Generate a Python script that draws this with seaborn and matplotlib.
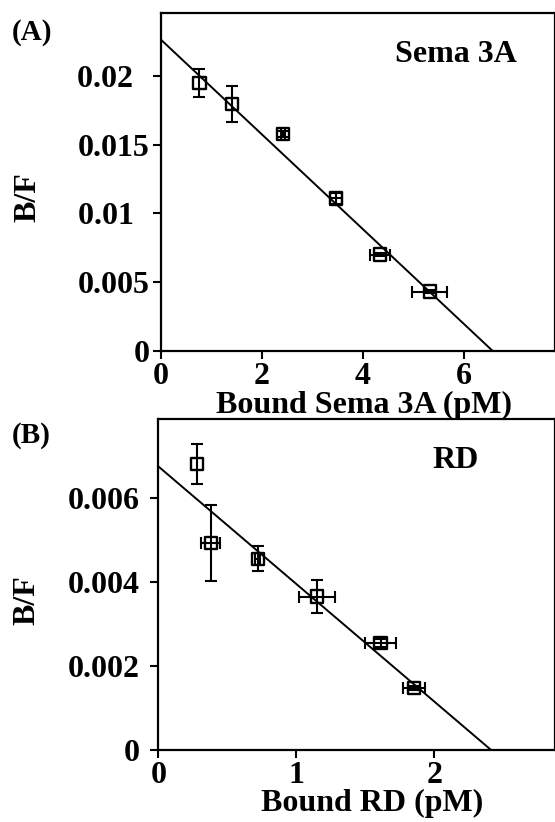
import matplotlib
matplotlib.use("Agg")
import matplotlib.pyplot as plt
import seaborn as sns

# ==============================
# Data
# ==============================

# (A) Sema 3A
sema_bound = [0.77, 1.42, 2.43, 3.47, 4.34, 5.33]
sema_bf = [0.0195, 0.0180, 0.0158, 0.0111, 0.0070, 0.0043]
sema_bf_err = [0.00102, 0.0013, 0.0002, 0.0004, 0.0001, 0.0001]
sema_bound_err = [0.0, 0.0, 0.04, 0.12, 0.2, 0.35]
sema_fit_x = [0, 6.57]
sema_fit_y = [0.0227, 0]
sema_xticks = [0, 2, 4, 6]
sema_yticks = [0, 0.005, 0.01, 0.015, 0.02]
sema_ylabels = ["0", "0.005", "0.01\u2007", "0.015", "0.02\u2007"]

# (B) RD
rd_bound = [0.28, 0.38, 0.72, 1.15, 1.61, 1.85]
rd_bf = [0.00681, 0.00492, 0.00455, 0.00365, 0.00254, 0.00148]
rd_bf_err = [0.00048, 0.0009, 0.0003, 0.0004, 0.0001, 0.00005]
rd_bound_err = [0.0, 0.07, 0.02, 0.13, 0.11, 0.08]
rd_fit_x = [0, 2.41]
rd_fit_y = [0.00675, 0]
rd_xticks = [0, 1, 2]
rd_yticks = [0, 0.002, 0.004, 0.006]
rd_ylabels = ["0", "0.002", "0.004", "0.006"]

sns.set_style("ticks")
plt.rcParams["font.family"] = ["Liberation Serif", "DejaVu Serif"]
plt.rcParams["font.weight"] = "bold"
plt.rcParams["text.color"] = "black"
plt.rcParams["axes.labelcolor"] = "black"
plt.rcParams["xtick.color"] = "black"
plt.rcParams["ytick.color"] = "black"

fig = plt.figure(figsize=(5.55, 8.22), dpi=100)
ax_a = fig.add_axes([0.2892, 0.5734, 0.7099, 0.4112])
ax_b = fig.add_axes([0.2852, 0.0876, 0.7139, 0.4023])


def draw_panel(ax, bx, bf, bf_err, bx_err, fit_x, fit_y, xticks, yticks, ylabels,
               xmax, ymax, xlabel, name, ypad):
    sns.lineplot(x=fit_x, y=fit_y, color="black", linewidth=1.4, ax=ax)

    # vertical error bars
    yi = [i for i in range(len(bx)) if bf_err[i] > 0]
    ax.errorbar([bx[i] for i in yi], [bf[i] for i in yi], yerr=[bf_err[i] for i in yi],
                fmt="none", ecolor="black", elinewidth=1.5, capsize=4, capthick=1.5)
    # horizontal error bars (only where there is one)
    xi = [i for i in range(len(bx)) if bx_err[i] > 0]
    ax.errorbar([bx[i] for i in xi], [bf[i] for i in xi], xerr=[bx_err[i] for i in xi],
                fmt="none", ecolor="black", elinewidth=1.5, capsize=4, capthick=1.5)

    sns.scatterplot(x=bx, y=bf, marker="s", s=80, facecolors="none",
                    edgecolor="black", linewidth=1.7, ax=ax, zorder=3)

    ax.set_xlim(0, xmax)
    ax.set_ylim(0, ymax)
    ax.set_xticks(xticks)
    ax.set_xticklabels([str(t) for t in xticks])
    ax.set_yticks(yticks)
    ax.set_yticklabels(ylabels)
    ax.tick_params(axis="both", direction="out", length=6, width=1.5,
                   labelsize=23, color="black", labelcolor="black")
    ax.tick_params(axis="x", pad=2)
    ax.tick_params(axis="y", pad=ypad)
    for lbl in ax.get_xticklabels() + ax.get_yticklabels():
        lbl.set_fontweight("bold")
    for sp in ax.spines.values():
        sp.set_visible(True)
        sp.set_linewidth(1.6)
        sp.set_color("black")

    ax.set_xlabel(xlabel, fontsize=23, fontweight="bold", color="black")
    ax.set_ylabel("B/F", fontsize=23, fontweight="bold", color="black")
    ax.text(0.75, 0.875, name, transform=ax.transAxes, ha="center", va="center",
            fontsize=23, fontweight="bold", color="black")


draw_panel(ax_a, sema_bound, sema_bf, sema_bf_err, sema_bound_err,
           sema_fit_x, sema_fit_y, sema_xticks, sema_yticks, sema_ylabels,
           7.8, 0.02464, "Bound Sema 3A (pM)", "Sema 3A", 2)
ax_a.xaxis.set_label_coords(0.516, -0.118)
ax_a.yaxis.set_label_coords(-0.300, 0.455)

draw_panel(ax_b, rd_bound, rd_bf, rd_bf_err, rd_bound_err,
           rd_fit_x, rd_fit_y, rd_xticks, rd_yticks, rd_ylabels,
           2.869, 0.00787, "Bound RD (pM)", "RD", 7)
ax_b.xaxis.set_label_coords(0.54, -0.118)
ax_b.yaxis.set_label_coords(-0.294, 0.454)

fig.text(0.058, 0.96, "(A)", ha="center", va="center", fontsize=21,
         fontweight="bold", color="black")
fig.text(0.056, 0.470, "(B)", ha="center", va="center", fontsize=21,
         fontweight="bold", color="black")

fig.savefig("out.png", dpi=100)
